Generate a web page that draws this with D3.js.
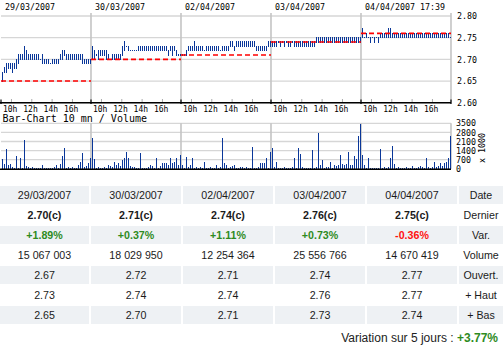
<!DOCTYPE html>
<html><head><meta charset="utf-8">
<script src="https://cdn.jsdelivr.net/npm/d3@7"></script>
<style>html,body{margin:0;padding:0;background:#fff;} svg{display:block;}</style>
</head><body><svg id="c" width="504" height="352"></svg>
<script>
// ---------- DATA ----------
const dayLabels = ["29/03/2007", "30/03/2007", "02/04/2007", "03/04/2007", "04/04/2007 17:39"];
const hourLabels = ["10h", "12h", "14h", "16h"];
const hourValues = [10, 12, 14, 16];
const priceTicks = [2.60, 2.65, 2.70, 2.75, 2.80];
const volumeTicks = [0, 700, 1400, 2100, 2800, 3500];
const prevClose = [2.65, 2.70, 2.71, 2.74, 2.76];

const day1Low  = [2.65,2.67,2.67,2.68,2.68,2.67,2.68,2.68,2.69,2.70,2.70,2.70,2.70,2.70,2.70,2.70,2.70,2.70,2.70,2.70,2.69,2.69,2.69,2.69,2.69,2.69,2.69,2.69,2.69,2.70,2.70,2.71,2.70,2.70,2.70,2.70,2.70,2.70,2.70,2.70,2.69,2.69,2.69,2.69,2.69];
const day1High = [2.67,2.68,2.69,2.69,2.69,2.69,2.69,2.70,2.71,2.71,2.71,2.73,2.72,2.71,2.71,2.71,2.71,2.71,2.71,2.70,2.71,2.70,2.70,2.70,2.69,2.70,2.70,2.70,2.70,2.71,2.72,2.72,2.71,2.71,2.71,2.71,2.71,2.71,2.71,2.71,2.71,2.70,2.70,2.70,2.70];
const day2Low  = [2.70,2.70,2.71,2.70,2.71,2.71,2.71,2.70,2.70,2.70,2.70,2.70,2.70,2.70,2.70,2.71,2.72,2.73,2.72,2.72,2.72,2.72,2.72,2.72,2.72,2.72,2.72,2.72,2.72,2.72,2.72,2.72,2.72,2.72,2.72,2.72,2.72,2.72,2.71,2.72,2.71,2.72,2.71,2.71,2.71];
const day2High = [2.73,2.72,2.71,2.72,2.72,2.72,2.72,2.72,2.71,2.70,2.71,2.71,2.71,2.71,2.71,2.73,2.74,2.73,2.73,2.72,2.72,2.72,2.72,2.73,2.73,2.73,2.73,2.73,2.73,2.73,2.73,2.73,2.73,2.73,2.73,2.73,2.73,2.73,2.72,2.73,2.73,2.73,2.72,2.71,2.71];
const day3Low  = [2.71,2.71,2.71,2.72,2.72,2.72,2.72,2.72,2.72,2.72,2.72,2.72,2.72,2.72,2.72,2.72,2.72,2.72,2.72,2.72,2.72,2.72,2.72,2.72,2.73,2.73,2.72,2.73,2.73,2.73,2.73,2.73,2.73,2.73,2.73,2.73,2.73,2.72,2.72,2.72,2.72,2.72,2.72,2.73,2.73];
const day3High = [2.71,2.71,2.72,2.73,2.73,2.73,2.74,2.73,2.73,2.73,2.73,2.72,2.73,2.73,2.73,2.73,2.73,2.73,2.73,2.72,2.73,2.73,2.73,2.73,2.74,2.74,2.73,2.74,2.74,2.74,2.74,2.74,2.74,2.74,2.74,2.74,2.74,2.73,2.73,2.73,2.73,2.73,2.73,2.74,2.74];
const day4Low  = [2.73,2.73,2.73,2.74,2.73,2.74,2.73,2.74,2.73,2.73,2.74,2.73,2.73,2.73,2.73,2.73,2.73,2.73,2.73,2.73,2.73,2.73,2.74,2.74,2.74,2.74,2.74,2.74,2.74,2.74,2.74,2.74,2.74,2.74,2.74,2.74,2.74,2.74,2.74,2.74,2.74,2.74,2.74,2.74,2.74];
const day4High = [2.74,2.74,2.74,2.74,2.74,2.74,2.74,2.74,2.74,2.74,2.74,2.74,2.74,2.74,2.74,2.74,2.74,2.74,2.74,2.74,2.74,2.74,2.75,2.75,2.75,2.75,2.75,2.75,2.75,2.75,2.75,2.75,2.75,2.75,2.75,2.75,2.75,2.75,2.75,2.75,2.75,2.75,2.75,2.75,2.75];
const day5Low  = [2.75,2.75,2.75,2.75,2.74,2.75,2.74,2.75,2.74,2.75,2.75,2.75,2.75,2.75,2.75,2.75,2.75,2.75,2.75,2.75,2.75,2.75,2.75,2.75,2.75,2.75,2.75,2.75,2.75,2.75,2.75,2.75,2.75,2.75,2.75,2.75,2.75,2.75,2.75,2.75,2.75,2.75,2.75,2.75,2.75];
const day5High = [2.77,2.75,2.76,2.75,2.75,2.75,2.75,2.75,2.75,2.76,2.76,2.76,2.76,2.77,2.77,2.76,2.76,2.76,2.76,2.76,2.76,2.76,2.76,2.76,2.76,2.76,2.76,2.76,2.76,2.76,2.76,2.76,2.76,2.76,2.76,2.76,2.76,2.76,2.76,2.76,2.76,2.76,2.76,2.76,2.75];

// volumes in thousands, one per 10-minute bar
const day1Vol = [750,400,1530,260,360,150,80,980,100,850,100,2230,200,150,100,150,80,60,80,60,280,80,60,80,60,100,150,280,100,360,980,1630,100,150,100,150,100,100,280,540,1240,150,210,410,800];
const day2Vol = [2380,725,100,150,80,100,150,60,280,230,150,540,280,410,210,670,850,1320,800,230,150,150,100,100,1240,100,100,100,150,280,210,100,850,100,210,470,410,470,280,850,470,540,850,280,1090];
const day3Vol = [280,100,930,150,280,850,100,150,100,150,100,540,100,100,150,100,100,280,100,150,2380,470,280,100,150,210,280,100,100,150,150,100,150,100,100,1660,100,100,150,410,470,410,850,100,1320];
const day4Vol = [1630,150,540,100,100,100,150,100,100,100,150,850,100,1630,1110,150,100,100,100,100,1480,100,150,2720,280,670,100,150,150,520,100,280,210,280,1060,360,280,360,1320,280,280,980,750,2540,3470];
const day5Vol = [1060,280,100,850,100,100,100,100,100,1530,100,150,100,150,850,1760,360,100,150,100,100,100,150,100,100,210,100,100,150,210,150,100,850,150,100,150,540,150,210,410,210,410,540,800,2490];

// table
const tableDates = ["29/03/2007", "30/03/2007", "02/04/2007", "03/04/2007", "04/04/2007"];
const tableDernier = ["2.70(c)", "2.71(c)", "2.74(c)", "2.76(c)", "2.75(c)"];
const tableVar = ["+1.89%", "+0.37%", "+1.11%", "+0.73%", "-0.36%"];
const tableVolume = ["15 067 003", "18 029 950", "12 254 364", "25 556 766", "14 670 419"];
const tableOuvert = ["2.67", "2.72", "2.71", "2.74", "2.77"];
const tableHaut = ["2.73", "2.74", "2.74", "2.76", "2.77"];
const tableBas = ["2.65", "2.70", "2.71", "2.73", "2.74"];
const rowLabels = ["Date", "Dernier", "Var.", "Volume", "Ouvert.", "+ Haut", "+ Bas"];
const variation5 = "+3.77%";

// ---------- DRAW ----------
const lows = [day1Low, day2Low, day3Low, day4Low, day5Low];
const highs = [day1High, day2High, day3High, day4High, day5High];
const vols = [day1Vol, day2Vol, day3Vol, day4Vol, day5Vol];
const SLOTS = 45;
const svg = d3.select("#c");
const mono = "DejaVu Sans Mono, monospace";
const sans = "Liberation Sans, Arial, sans-serif";
const BLUE = "#0a3799";
const GRID = "#d6d6d6";
const SEP = "#c4c4c4";

const x = d3.scaleLinear().domain([0, SLOTS * 5]).range([1, 451]);
const hourToSlot = d3.scaleLinear().domain([9, 17]).range([0.15, 40.8]);
const yP = d3.scaleLinear().domain([2.60, 2.80]).range([102.7, 16]);
const yV = d3.scaleLinear().domain([0, 3500]).range([168.8, 123.3]);

// price grid
svg.append("g").selectAll("line").data(priceTicks).join("line")
  .attr("x1", x(0)).attr("x2", x(SLOTS*5)).attr("y1", d => yP(d)).attr("y2", d => yP(d))
  .attr("stroke", GRID).attr("stroke-width", 1.3);
// separators price
svg.append("g").selectAll("line").data([1,2,3,4,5]).join("line")
  .attr("x1", d => x(d*SLOTS)).attr("x2", d => x(d*SLOTS)).attr("y1", 13).attr("y2", yP(2.60))
  .attr("stroke", SEP).attr("stroke-width", 1.6);
// hour ticks
const hourTicks = [];
for (let d = 0; d < 5; d++) hourValues.forEach((h, k) => hourTicks.push({d, h, label: hourLabels[k]}));
svg.append("g").selectAll("line").data(hourTicks).join("line")
  .attr("x1", t => x(t.d*SLOTS + hourToSlot(t.h))).attr("x2", t => x(t.d*SLOTS + hourToSlot(t.h)))
  .attr("y1", 99).attr("y2", 102).attr("stroke", "#aaa").attr("stroke-width", 1);
svg.append("g").selectAll("text").data(hourTicks).join("text")
  .attr("x", t => x(t.d*SLOTS + hourToSlot(t.h)) - 1.3).attr("y", 111.5)
  .attr("text-anchor", "middle").attr("font-family", mono).attr("font-size", 8).attr("fill", "#000")
  .text(t => t.label);
// day boundary ticks
svg.append("g").selectAll("line").data([0,1,2,3,4,5]).join("line")
  .attr("x1", d => x(d*SLOTS)).attr("x2", d => x(d*SLOTS)).attr("y1", 99.5).attr("y2", 104)
  .attr("stroke", "#000").attr("stroke-width", 1.2);

// price bars
const bars = [];
for (let d = 0; d < 5; d++) lows[d].forEach((lo, i) => bars.push({slot: d*SLOTS + i, lo, hi: highs[d][i]}));
svg.append("g").attr("shape-rendering", "crispEdges").selectAll("rect").data(bars).join("rect")
  .attr("x", b => x(b.slot) + 0.5).attr("width", 1.1)
  .attr("y", b => yP(b.hi) - 0.7).attr("height", b => yP(b.lo) - yP(b.hi) + 1.4)
  .attr("fill", BLUE);

// previous close dashed lines (on top of bars)
svg.append("g").selectAll("line").data(prevClose).join("line")
  .attr("x1", (p, d) => x(d*SLOTS)).attr("x2", (p, d) => x((d+1)*SLOTS))
  .attr("y1", p => yP(p)).attr("y2", p => yP(p))
  .attr("stroke", "#ff0000").attr("stroke-width", 1.6).attr("stroke-dasharray", "5,3");

// bottom axis
svg.append("line").attr("x1", 0).attr("x2", x(SLOTS*5)).attr("y1", yP(2.60)).attr("y2", yP(2.60))
  .attr("stroke", "#000").attr("stroke-width", 1.5);

// price axis labels
svg.append("g").attr("transform", `translate(${x(SLOTS*5)},0)`)
  .call(d3.axisRight(yP).tickValues(priceTicks).tickFormat(d3.format(".2f")).tickSize(0).tickPadding(6))
  .call(g => g.select(".domain").remove())
  .call(g => g.selectAll("text").attr("font-family", mono).attr("font-size", 8.3).attr("fill", "#000"));

// day labels
svg.append("g").selectAll("text").data(dayLabels).join("text")
  .attr("x", (t, d) => x(d*SLOTS) + 4).attr("y", 10.3)
  .attr("font-family", mono).attr("font-size", 8.3).attr("fill", "#000").text(t => t);

// volume title
svg.append("text").attr("x", 2.5).attr("y", 121.5).attr("font-family", mono).attr("font-size", 10)
  .attr("fill", "#000").text("Bar-Chart 10 mn / Volume");

// volume grid
svg.append("g").selectAll("line").data(volumeTicks).join("line")
  .attr("x1", x(0)).attr("x2", x(SLOTS*5)).attr("y1", d => yV(d)).attr("y2", d => yV(d))
  .attr("stroke", GRID).attr("stroke-width", 1.3);
svg.append("g").selectAll("line").data([1,2,3,4,5]).join("line")
  .attr("x1", d => x(d*SLOTS)).attr("x2", d => x(d*SLOTS)).attr("y1", yV(3500)).attr("y2", yV(0))
  .attr("stroke", SEP).attr("stroke-width", 1.6);

// volume bars
const vbars = [];
for (let d = 0; d < 5; d++) vols[d].forEach((v, i) => vbars.push({slot: d*SLOTS + i, v}));
svg.append("g").attr("shape-rendering", "crispEdges").selectAll("rect").data(vbars).join("rect")
  .attr("x", b => x(b.slot) + 0.5).attr("width", 1.2)
  .attr("y", b => yV(b.v)).attr("height", b => yV(0) - yV(b.v))
  .attr("fill", BLUE);

svg.append("line").attr("x1", 0).attr("x2", x(SLOTS*5)).attr("y1", yV(0)+0.5).attr("y2", yV(0)+0.5)
  .attr("stroke", "#000").attr("stroke-width", 1.4);

svg.append("g").attr("transform", `translate(${x(SLOTS*5)},0)`)
  .call(d3.axisRight(yV).tickValues(volumeTicks).tickFormat(d3.format("d")).tickSize(0).tickPadding(5))
  .call(g => g.select(".domain").remove())
  .call(g => g.selectAll("text").attr("font-family", mono).attr("font-size", 8.3).attr("fill", "#000"));

svg.append("text").attr("transform", "translate(485,148) rotate(-90)").attr("text-anchor", "middle")
  .attr("font-family", mono).attr("font-size", 8.3).attr("fill", "#000").text("x 1000");

// ---------- TABLE ----------
const colX = [0, 91, 183, 275, 367, 459];
const colW = [89, 90, 90, 90, 90, 44];
const rows = [tableDates, tableDernier, tableVar, tableVolume, tableOuvert, tableHaut, tableBas];
const rowTop = r => 186 + 20 * r;
const tbl = svg.append("g");
rows.forEach((vals, r) => {
  if (r % 2 === 0) {
    tbl.selectAll(null).data(colX).join("rect")
      .attr("x", c => c).attr("width", (c, i) => colW[i]).attr("y", rowTop(r)).attr("height", 18)
      .attr("fill", "#eef1f4");
  }
  const cells = vals.concat([rowLabels[r]]);
  tbl.selectAll(null).data(cells).join("text")
    .attr("x", (t, i) => colX[i] + colW[i] / 2).attr("y", rowTop(r) + 12.8)
    .attr("text-anchor", "middle").attr("font-family", sans).attr("font-size", 10.67)
    .attr("font-weight", (t, i) => (i < 5 && (r === 1 || r === 2)) ? "bold" : "normal")
    .attr("fill", (t, i) => (i < 5 && r === 2) ? (t.startsWith("-") ? "#ff1111" : "#2e8b1e") : "#1a1a1a")
    .text(t => t);
});

const vt = svg.append("text").attr("x", 498).attr("y", 342).attr("text-anchor", "end")
  .attr("font-family", sans).attr("font-size", 12).attr("fill", "#222");
vt.append("tspan").text("Variation sur 5 jours : ");
vt.append("tspan").attr("font-weight", "bold").attr("fill", "#2e8b1e").text(variation5);
</script></body></html>
